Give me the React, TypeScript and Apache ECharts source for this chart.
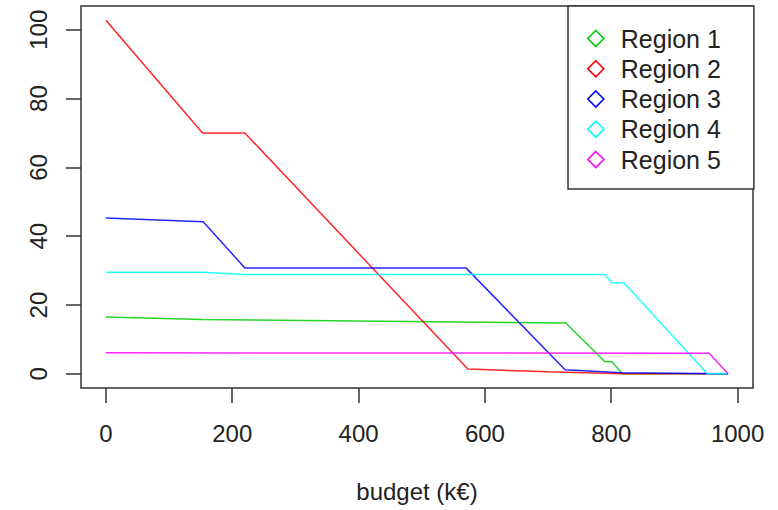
import React, { useEffect, useRef } from "react";
import * as echarts from "echarts";

const regionNames = ["Region 1", "Region 2", "Region 3", "Region 4", "Region 5"];
const regionColors = ["#00CD00", "#FF0000", "#0000FF", "#00FFFF", "#FF00FF"];

// [budget (k€), value]
const region1: [number, number][] = [[0, 16.5], [153, 15.8], [728, 14.8], [790, 3.5], [801, 3.5], [818, 0], [985, 0]];
const region2: [number, number][] = [[0, 102.8], [153, 70], [220, 70], [573, 1.4], [700, 0.6], [816, 0], [985, 0]];
const region3: [number, number][] = [[0, 45.3], [154, 44.2], [220, 30.8], [570, 30.8], [727, 1.2], [816, 0.3], [985, 0]];
const region4: [number, number][] = [[0, 29.5], [153, 29.5], [220, 28.9], [790, 28.9], [801, 26.5], [820, 26.5], [952, 0], [985, 0]];
const region5: [number, number][] = [[0, 6.1], [955, 6.0], [985, 0]];
const regionData = [region1, region2, region3, region4, region5];

const xTicks = [0, 200, 400, 600, 800, 1000];
const yTicks = [0, 20, 40, 60, 80, 100];

const xDataMin = 0;
const xDataMax = 985;
const yDataMin = 0;
const yDataMax = 102.8;

export default function App() {
  const ref = useRef<HTMLDivElement>(null);
  useEffect(() => {
    if (!ref.current) return;
    const chart = echarts.init(ref.current, undefined, { renderer: "svg" });
    const xPad = (xDataMax - xDataMin) * 0.04;
    const yPad = (yDataMax - yDataMin) * 0.04;
    const font = "Liberation Sans";
    const axisColor = "#333";
    chart.setOption({
      animation: false,
      backgroundColor: "#fff",
      grid: {
        left: 81,
        right: 25,
        top: 6,
        bottom: 122,
        show: true,
        borderColor: axisColor,
        borderWidth: 1.5,
        backgroundColor: "transparent",
      },
      xAxis: {
        type: "value",
        min: xDataMin - xPad,
        max: xDataMax + xPad,
        splitLine: { show: false },
        axisLine: { show: false, onZero: false },
        axisTick: { show: true, length: 15, lineStyle: { color: axisColor, width: 1.5 }, customValues: xTicks },
        axisLabel: {
          customValues: xTicks,
          formatter: (v: number) => String(v),
          margin: 33,
          fontSize: 24,
          fontFamily: font,
          color: "#222",
        },
        name: "budget (k€)",
        nameLocation: "middle",
        nameGap: 91,
        nameTextStyle: { fontSize: 24, fontFamily: font, color: "#222" },
      },
      yAxis: {
        type: "value",
        min: yDataMin - yPad,
        max: yDataMax + yPad,
        splitLine: { show: false },
        axisLine: { show: false, onZero: false },
        axisTick: { show: true, length: 15, lineStyle: { color: axisColor, width: 1.5 }, customValues: yTicks },
        axisLabel: {
          customValues: yTicks,
          formatter: (v: number) => String(v),
          rotate: 90,
          margin: 31,
          fontSize: 24,
          fontFamily: font,
          color: "#222",
        },
      },
      legend: {
        orient: "vertical",
        left: 568,
        top: 6,
        padding: [20, 33, 17, 19],
        itemWidth: 16,
        itemHeight: 16,
        itemGap: 5.25,
        borderColor: axisColor,
        borderWidth: 1.5,
        backgroundColor: "#fff",
        borderRadius: 0,
        textStyle: { fontSize: 25, fontFamily: font, color: "#222", lineHeight: 25, padding: [0, 0, 0, 12] },
        data: regionNames.map((n, i) => ({
          name: n,
          icon: "diamond",
          itemStyle: { color: "rgba(0,0,0,0)", borderColor: regionColors[i], borderWidth: 1.6 },
        })),
      },
      series: regionNames.map((n, i) => ({
        name: n,
        type: "line",
        data: regionData[i],
        showSymbol: false,
        symbol: "none",
        color: regionColors[i],
        lineStyle: { color: regionColors[i], width: 1.5, opacity: 0.85 },
        z: 2,
      })),
    });
    return () => chart.dispose();
  }, []);
  return (
    <div
      ref={ref}
      style={{ position: "fixed", left: 0, top: 0, width: 778, height: 510 }}
    />
  );
}
